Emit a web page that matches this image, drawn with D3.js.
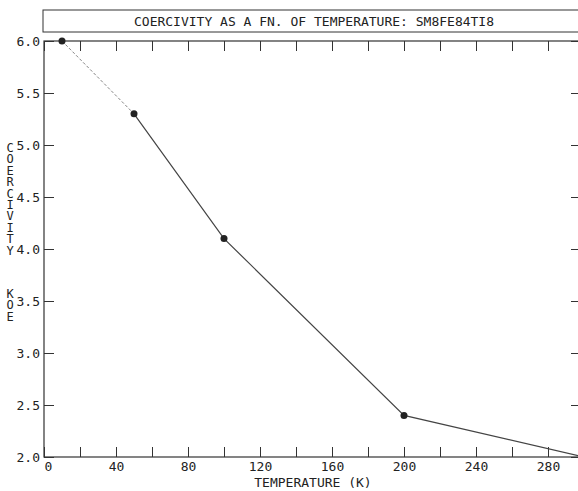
<!DOCTYPE html>
<html>
<head>
<meta charset="utf-8">
<script src="https://cdn.jsdelivr.net/npm/d3@7"></script>
<style>
  body { margin: 0; background: #fff; }
  text { font-family: "DejaVu Sans Mono", monospace; fill: #222; }
</style>
</head>
<body>
<div id="chart"></div>
<script>
// data
var temps = [10, 50, 100, 200, 300];
var coercivity = [6.0, 5.3, 4.1, 2.4, 2.0];
var xTicks = [0, 40, 80, 120, 160, 200, 240, 280];
var yTicks = [2.0, 2.5, 3.0, 3.5, 4.0, 4.5, 5.0, 5.5, 6.0];
var title = "COERCIVITY AS A FN. OF TEMPERATURE: SM8FE84TI8";
var yLabel1 = "COERCIVITY";
var yLabel2 = "KOE";

var W = 578, H = 491;
var mLeft = 44, mRight = 584, mTop = 41, mBottom = 457;
var ink = "#333";

var svg = d3.select("#chart").append("svg")
  .attr("width", W).attr("height", H);

var x = d3.scaleLinear().domain([0, 300]).range([mLeft, mRight]);
var y = d3.scaleLinear().domain([2, 6]).range([mBottom, mTop]);

/* title box */
svg.append("rect")
  .attr("x", mLeft - 1).attr("y", 10)
  .attr("width", mRight - mLeft + 1).attr("height", 22)
  .attr("fill", "none").attr("stroke", ink).attr("stroke-width", 1);

svg.append("text")
  .attr("x", (mLeft + mRight) / 2).attr("y", 26)
  .attr("text-anchor", "middle")
  .style("font-size", "13px")
  .text(title);

/* frame */
svg.append("rect")
  .attr("x", mLeft).attr("y", mTop)
  .attr("width", mRight - mLeft).attr("height", mBottom - mTop)
  .attr("fill", "none").attr("stroke", ink).attr("stroke-width", 1.2);

/* axes */
var minor = d3.range(0, 301, 20);

var xBottom = d3.axisBottom(x).tickValues(minor).tickSize(-10)
  .tickFormat(d => xTicks.indexOf(d) >= 0 ? d : "");
var gB = svg.append("g").attr("transform", `translate(0,${mBottom})`).call(xBottom);

var xTop = d3.axisTop(x).tickValues(minor).tickSize(-10).tickFormat("");
var gT = svg.append("g").attr("transform", `translate(0,${mTop})`).call(xTop);

var yLeft = d3.axisLeft(y).tickValues(yTicks).tickSize(-10).tickPadding(6)
  .tickFormat(d3.format(".1f"));
var gL = svg.append("g").attr("transform", `translate(${mLeft},0)`).call(yLeft);

var yRight = d3.axisRight(y).tickValues(yTicks).tickSize(-13).tickFormat("");
var gR = svg.append("g").attr("transform", `translate(${mRight},0)`).call(yRight);

[gB, gT, gL, gR].forEach(function(g) {
  g.select(".domain").remove();
  g.selectAll(".tick line").attr("stroke", ink).attr("stroke-width", 1);
  g.selectAll("text")
    .style("font-size", "13px")
    .style("font-family", "'DejaVu Sans Mono', monospace")
    .attr("fill", "#222");
});
gL.selectAll("text").attr("x", -4);
gB.selectAll("text").attr("y", 5);
gB.selectAll(".tick").filter(d => d === 0).select("text").attr("dx", 4);

svg.append("text")
  .attr("x", (mLeft + mRight) / 2 - 1).attr("y", 487)
  .attr("text-anchor", "middle")
  .style("font-size", "13px")
  .text("TEMPERATURE (K)");

/* stacked y label: upright letters in vertical writing mode */
function stacked(word, y0) {
  svg.append("text")
    .attr("x", 10).attr("y", y0)
    .style("writing-mode", "vertical-rl")
    .style("text-orientation", "upright")
    .style("letter-spacing", "-2.6px")
    .style("font-size", "12px")
    .text(word);
}
stacked(yLabel1, 141);
stacked(yLabel2, 287);

/* data line */
var pts = temps.map((t, i) => [t, coercivity[i]]);
var line = d3.line().x(d => x(d[0])).y(d => y(d[1]));

svg.append("path")
  .attr("d", line(pts.slice(0, 2)))
  .attr("fill", "none").attr("stroke", "#777")
  .attr("stroke-width", 0.9).attr("stroke-dasharray", "3,2");

svg.append("path")
  .attr("d", line(pts.slice(1)))
  .attr("fill", "none").attr("stroke", "#444")
  .attr("stroke-width", 1.2);

svg.selectAll("circle.pt")
  .data(pts).enter()
  .append("circle")
  .attr("class", "pt")
  .attr("cx", d => x(d[0])).attr("cy", d => y(d[1]))
  .attr("r", 3.5)
  .attr("fill", "#222");
</script>
</body>
</html>
